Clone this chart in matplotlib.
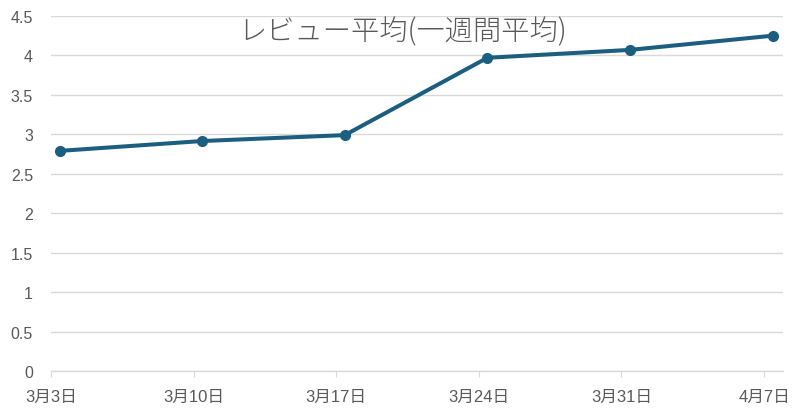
import matplotlib.pyplot as plt

plt.rcParams['font.family'] = ['Liberation Sans', 'Noto Sans CJK JP', 'DejaVu Sans']

# data
week_labels = ['3月3日', '3月10日', '3月17日', '3月24日', '3月31日', '4月7日']
tick_days = [0, 7, 14, 21, 28, 35]
point_days = [0.42, 7.42, 14.42, 21.42, 28.42, 35.42]
review_avg = [2.79, 2.915, 2.99, 3.97, 4.07, 4.25]

line_color = '#1b5e80'
text_color = '#595959'
grid_color = '#d9d9d9'

fig = plt.figure(figsize=(8.01, 4.14), dpi=100)
ax = fig.add_axes([0.0637, 0.1014, 0.9138, 0.8576])

ax.plot(point_days, review_avg, color=line_color, lw=2.9, marker='o',
        ms=7, solid_capstyle='round', zorder=3)

ax.set_xlim(0, 35.93)
ax.set_ylim(0, 4.5)
ax.set_yticks([i * 0.5 for i in range(10)])
ax.set_yticklabels(['0', '0.5', '1', '1.5', '2', '2.5', '3', '3.5', '4', '4.5'])
ax.set_xticks(tick_days)
ax.set_xticklabels(week_labels)

ax.grid(axis='y', color=grid_color, lw=1)
ax.set_axisbelow(True)
for s in ['top', 'right', 'left']:
    ax.spines[s].set_visible(False)
ax.spines['bottom'].set_color(grid_color)
ax.spines['bottom'].set_linewidth(1)

ax.tick_params(axis='y', length=0, pad=13, labelsize=11.5, labelcolor=text_color)
ax.tick_params(axis='x', length=4, color=grid_color, pad=9, labelsize=12,
               labelcolor=text_color)

fig.text(0.503, 0.923, 'レビュー平均(一週間平均)', ha='center', va='center',
         fontsize=20.3, color=text_color, fontweight='light',
         family=['Noto Sans CJK JP', 'DejaVu Sans'])

plt.savefig('out.png', dpi=100)
